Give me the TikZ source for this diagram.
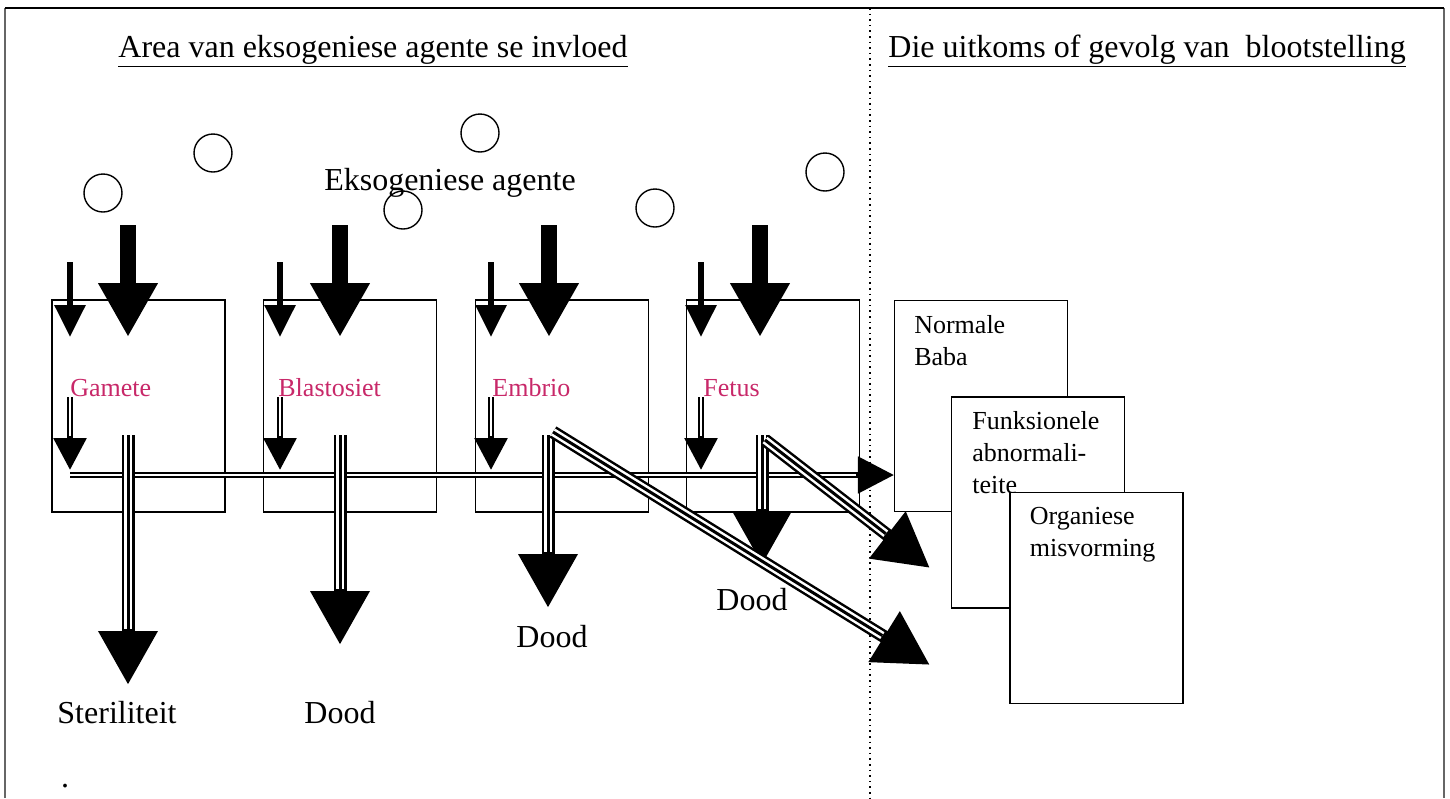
\documentclass[tikz,border=0pt]{standalone}
\usepackage{fontspec}
\setmainfont{Liberation Serif}
\usetikzlibrary{positioning,arrows.meta}
\definecolor{stagered}{RGB}{200,40,105}

\begin{document}
\begin{tikzpicture}[x=0.5pt, y=-0.5pt,
        stagebox/.style={draw, line width=0.6pt, minimum width=86.5pt, minimum height=106pt, inner sep=0pt},
        outbox/.style={draw, fill=white, line width=0.6pt, minimum width=86.5pt, minimum height=105.5pt, inner sep=0pt},
        agentnode/.style={circle, draw, line width=0.7pt, minimum size=19pt, inner sep=0pt},
        bigtext/.style={font=\fontsize{16}{19}\selectfont, inner sep=0pt},
        smalltext/.style={font=\fontsize{13}{16}\selectfont, inner sep=0pt, align=left},
        stagetext/.style={smalltext, text=stagered, anchor=west},
        bigarrow/.style={line width=8pt, -{Triangle[length=27pt,width=28pt]}},
        smallarrow/.style={line width=3pt, -{Triangle[length=16pt,width=15pt]}},
        innerarrow/.style={line width=3pt, -{Triangle[length=16pt,width=16pt]}, postaction={draw=white, line width=0.8pt, -, shorten >=17pt}},
        passarrow/.style={line width=2.6pt, -{Triangle[length=18pt,width=18pt]}, postaction={draw=white, line width=1pt, -, shorten >=19pt}},
        triplearrow/.style={line width=6.5pt, -{Triangle[length=27pt,width=28pt]}, postaction={draw=white, line width=4pt, -, shorten >=28pt}, postaction={draw=black, line width=1.5pt, -, shorten >=28pt}}]
        \useasboundingbox (0,0) rectangle (1450,798);
        \draw[black!60, line width=1pt] (5,798) -- (5,8);
        \draw[black!60, line width=1pt] (1444,8) -- (1444,798);
        \draw[line width=1pt] (5,8) -- (1444,8);
        \draw[line width=0.8pt, dotted] (870,8) -- (870,798);
        \node[bigtext, anchor=base west] (areatitle) at (118,57) {\underline{Area van eksogeniese agente se invloed}};
        \node[bigtext, anchor=base west] (uitkomstitle) at (888,57) {\underline{Die uitkoms of gevolg van\ \ blootstelling}};
        \node[agentnode] (agentone) at (103,193) {};
        \node[agentnode] (agenttwo) at (213,153) {};
        \node[agentnode] (agentthree) at (403,210) {};
        \node[agentnode] (agentfour) at (480,133) {};
        \node[agentnode] (agentfive) at (655,208) {};
        \node[agentnode] (agentsix) at (825,172) {};
        \node[bigtext] (agents) at (450,183) {Eksogeniese agente};
        \node[stagebox] (gamete) at (138.5,406) {};
        \node[stagebox] (blasto) [right=18.5pt of gamete] {};
        \node[stagebox] (embrio) [right=19pt of blasto] {};
        \node[stagebox] (fetus) [right=18.5pt of embrio] {};
        \node[stagetext] (gametelbl) at (70,388) {Gamete};
        \node[stagetext] (blastolbl) at (278,388) {Blastosiet};
        \node[stagetext] (embriolbl) at (492,388) {Embrio};
        \node[stagetext] (fetuslbl) at (703,388) {Fetus};
        \coordinate (gamsmall) at (70,262);
        \coordinate (gambig) at (128,225);
        \coordinate (blasmall) at (280,262);
        \coordinate (blabig) at (340,225);
        \coordinate (embsmall) at (491,262);
        \coordinate (embbig) at (549,225);
        \coordinate (fetsmall) at (701,262);
        \coordinate (fetbig) at (760,225);
        \draw[smallarrow] (gamsmall) -- (70,337);
        \draw[bigarrow] (gambig) -- (128,337);
        \draw[smallarrow] (blasmall) -- (280,337);
        \draw[bigarrow] (blabig) -- (340,337);
        \draw[smallarrow] (embsmall) -- (491,337);
        \draw[bigarrow] (embbig) -- (549,337);
        \draw[smallarrow] (fetsmall) -- (701,337);
        \draw[bigarrow] (fetbig) -- (760,337);
        \draw[innerarrow] (70,397) -- (70,470);
        \draw[innerarrow] (280,397) -- (280,470);
        \draw[innerarrow] (491,397) -- (491,470);
        \draw[innerarrow] (701,397) -- (701,470);
        \node[outbox] (normale) at (981,406) {};
        \node[smalltext, below right=7.5pt and 10pt of normale.north west] (normaletxt) {Normale\\Baba};
        \coordinate (passstart) at (70,475);
        \draw[passarrow] (passstart) -- (passstart -| normale.west);
        \node[outbox] (funksie) at (1038,502.5) {};
        \node[smalltext, below right=7.5pt and 10.5pt of funksie.north west] (funksietxt) {Funksionele\\abnormali-\\teite};
        \node[outbox] (organies) at (1096.5,598) {};
        \node[smalltext, below right=7.5pt and 10pt of organies.north west] (organiestxt) {Organiese\\misvorming};
        \coordinate (gamout) at (128,685);
        \coordinate (blaout) at (340,645);
        \coordinate (embout) at (548,608);
        \coordinate (fetout) at (762,565);
        \draw[triplearrow] (128,435) -- (gamout);
        \draw[triplearrow] (340,435) -- (blaout);
        \draw[triplearrow] (548,435) -- (embout);
        \draw[triplearrow] (762,435) -- (fetout);
        \coordinate (embdiag) at (930,665);
        \coordinate (fetdiag) at (930,568);
        \draw[triplearrow] (553,432) -- (embdiag);
        \draw[triplearrow] (765,440) -- (fetdiag);
        \node[bigtext] (steril) at (117,713) {Steriliteit};
        \node[bigtext] (blasdood) at (340,713) {Dood};
        \node[bigtext] (embdood) at (552,637) {Dood};
        \node[bigtext] (fetdood) at (752,600) {Dood};
        \node[bigtext] (stip) at (65,786) {.};
\end{tikzpicture}
\end{document}
